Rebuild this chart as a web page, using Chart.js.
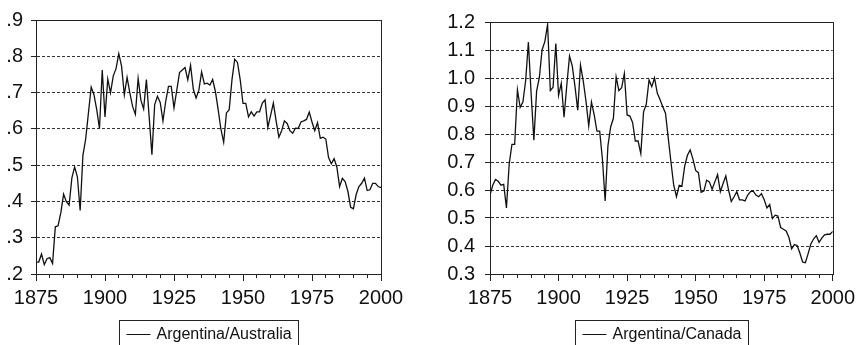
<!DOCTYPE html>
<html><head><meta charset="utf-8">
<script src="https://cdn.jsdelivr.net/npm/chart.js@4.4.0/dist/chart.umd.min.js"></script>
<style>
html,body{margin:0;padding:0;background:#fff;}
#wrap{position:relative;width:860px;height:345px;overflow:hidden;background:#fff;}
.pane{position:absolute;top:0;width:430px;height:345px;}
</style></head><body>
<div id="wrap">
<div class="pane" style="left:0"><canvas id="c1" width="430" height="345"></canvas></div>
<div class="pane" style="left:430px"><canvas id="c2" width="430" height="345"></canvas></div>
</div>
<script>
const years = [1875,1876,1877,1878,1879,1880,1881,1882,1883,1884,1885,1886,1887,1888,1889,1890,1891,1892,1893,1894,1895,1896,1897,1898,1899,
1900,1901,1902,1903,1904,1905,1906,1907,1908,1909,1910,1911,1912,1913,1914,1915,1916,1917,1918,1919,1920,1921,1922,1923,1924,
1925,1926,1927,1928,1929,1930,1931,1932,1933,1934,1935,1936,1937,1938,1939,1940,1941,1942,1943,1944,1945,1946,1947,1948,1949,
1950,1951,1952,1953,1954,1955,1956,1957,1958,1959,1960,1961,1962,1963,1964,1965,1966,1967,1968,1969,1970,1971,1972,1973,1974,
1975,1976,1977,1978,1979,1980,1981,1982,1983,1984,1985,1986,1987,1988,1989,1990,1991,1992,1993,1994,1995,1996,1997,1998,1999,2000];

const argAustralia = [0.233,0.233,0.255,0.226,0.242,0.245,0.229,0.330,0.333,0.369,0.420,0.399,0.390,0.465,0.495,0.468,0.375,0.527,0.572,0.644,0.715,0.694,0.653,0.601,0.762,
0.633,0.737,0.699,0.746,0.766,0.807,0.773,0.694,0.742,0.699,0.662,0.640,0.739,0.679,0.655,0.736,0.633,0.529,0.667,0.690,0.673,0.622,0.676,0.717,0.717,
0.658,0.706,0.755,0.762,0.769,0.735,0.775,0.709,0.685,0.706,0.757,0.724,0.726,0.721,0.736,0.703,0.653,0.599,0.563,0.644,0.653,0.735,0.792,0.783,0.735,
0.670,0.670,0.633,0.647,0.635,0.647,0.647,0.671,0.680,0.604,0.637,0.671,0.622,0.577,0.595,0.622,0.615,0.595,0.588,0.602,0.601,0.619,0.622,0.626,0.646,
0.619,0.595,0.617,0.574,0.577,0.572,0.521,0.504,0.518,0.495,0.441,0.464,0.455,0.428,0.384,0.380,0.419,0.441,0.450,0.464,0.430,0.432,0.450,0.450,0.441,0.438];

const argCanada = [0.582,0.617,0.638,0.631,0.617,0.620,0.536,0.693,0.763,0.763,0.958,0.895,0.914,0.990,1.128,0.944,0.778,0.953,1.002,1.101,1.130,1.191,0.955,0.967,1.123,
0.938,0.981,0.860,0.973,1.078,1.043,0.969,0.885,1.046,0.990,0.918,0.829,0.914,0.868,0.810,0.810,0.710,0.561,0.757,0.825,0.856,1.004,0.955,0.965,1.016,
0.868,0.864,0.841,0.775,0.775,0.730,0.879,0.906,0.993,0.969,1.000,0.946,0.923,0.897,0.874,0.786,0.699,0.617,0.576,0.617,0.614,0.685,0.724,0.743,0.711,
0.670,0.662,0.592,0.596,0.635,0.629,0.603,0.629,0.655,0.594,0.623,0.650,0.600,0.559,0.576,0.594,0.565,0.565,0.561,0.582,0.594,0.596,0.582,0.576,0.587,
0.565,0.536,0.548,0.498,0.510,0.507,0.466,0.460,0.454,0.431,0.390,0.405,0.402,0.375,0.343,0.340,0.372,0.407,0.425,0.437,0.413,0.428,0.440,0.442,0.442,0.452];

const seriesNames = ['Argentina/Australia', 'Argentina/Canada'];
const xRange = [1875, 2000];
const leftYRange = [0.2, 0.9];
const rightYRange = [0.3, 1.2];

const FONT = '"Liberation Sans", Arial, Helvetica, sans-serif';
const INK = '#111';

const framePlugin = {
  id: 'frame',
  afterDraw(chart) {
    const {ctx, chartArea: a} = chart;
    ctx.save();
    ctx.strokeStyle = '#222';
    ctx.lineWidth = 1;
    ctx.setLineDash([]);
    ctx.strokeRect(Math.round(a.left) + 0.5, Math.round(a.top) + 0.5,
                   Math.round(a.right - a.left), Math.round(a.bottom - a.top));
    ctx.restore();
  }
};

const boxLegendPlugin = {
  id: 'boxLegend',
  afterDraw(chart) {
    const {ctx, chartArea: a} = chart;
    const ds = chart.data.datasets[0];
    ctx.save();
    ctx.font = '16px ' + FONT;
    const tw = ctx.measureText(ds.label).width;
    const padL = 7, lineLen = 24, gap = 6, padR = 7, h = 28;
    const w = padL + lineLen + gap + tw + padR;
    const cx = (a.left + a.right) / 2;
    const x0 = Math.round(cx - w / 2) + 0.5;
    const y0 = Math.round(a.bottom + 46) + 0.5;
    ctx.strokeStyle = '#222';
    ctx.lineWidth = 1;
    ctx.strokeRect(x0, y0, Math.round(w), h);
    const ly = Math.round(y0 + 13) + 0.5;
    ctx.beginPath();
    ctx.moveTo(x0 + padL, ly);
    ctx.lineTo(x0 + padL + lineLen, ly);
    ctx.strokeStyle = INK;
    ctx.stroke();
    ctx.fillStyle = INK;
    ctx.textBaseline = 'middle';
    ctx.textAlign = 'left';
    ctx.fillText(ds.label, x0 + padL + lineLen + gap, y0 + 14);
    ctx.restore();
  }
};

function makeChart(id, label, values, yRange, yFmt, yAxisWidth, yPad, padding) {
  return new Chart(document.getElementById(id), {
    type: 'line',
    data: {
      datasets: [{
        label: label,
        data: years.map((yr, i) => ({x: yr, y: values[i]})),
        borderColor: INK,
        borderWidth: 1.3,
        pointRadius: 0,
        tension: 0,
        fill: false,
        xAxisID: 'x',
        yAxisID: 'y'
      }]
    },
    options: {
      responsive: false,
      animation: false,
      devicePixelRatio: 1,
      layout: {padding: padding},
      plugins: {legend: {display: false}, tooltip: {enabled: false}},
      scales: {
        xMinor: {
          type: 'linear', position: 'bottom', weight: 0,
          min: xRange[0], max: xRange[1],
          ticks: {display: false, stepSize: 5},
          grid: {drawOnChartArea: false, tickLength: 4, color: '#222', tickColor: '#222'},
          border: {color: '#222'},
          afterFit: s => { s.height = 0; }
        },
        x: {
          type: 'linear', position: 'bottom', weight: 1,
          min: xRange[0], max: xRange[1],
          ticks: {stepSize: 25, autoSkip: false, maxRotation: 0, padding: 5,
                  color: INK, font: {family: FONT, size: 20},
                  callback: v => String(v)},
          grid: {drawOnChartArea: false, tickLength: 7, color: '#222', tickColor: '#222'},
          border: {color: '#222'},
          afterFit: s => { s.height = 40; }
        },
        y: {
          type: 'linear', position: 'left',
          min: yRange[0], max: yRange[1],
          ticks: {stepSize: 0.1, padding: yPad, color: INK,
                  font: {family: FONT, size: 20}, callback: yFmt},
          grid: {color: '#333', lineWidth: 1, tickLength: 5, tickColor: '#222', tickBorderDash: []},
          border: {color: '#222', dash: [3, 2]},
          afterFit: s => { s.width = yAxisWidth; }
        }
      }
    },
    plugins: [framePlugin, boxLegendPlugin]
  });
}

makeChart('c1', seriesNames[0], argAustralia, leftYRange,
  v => v.toFixed(1).replace(/^0/, ''), 36, 8, {top: 15, right: 49, bottom: 31, left: 0});
makeChart('c2', seriesNames[1], argCanada, rightYRange,
  v => v.toFixed(1), 60, 10, {top: 16, right: 26, bottom: 31, left: 0});
</script>
</body></html>
